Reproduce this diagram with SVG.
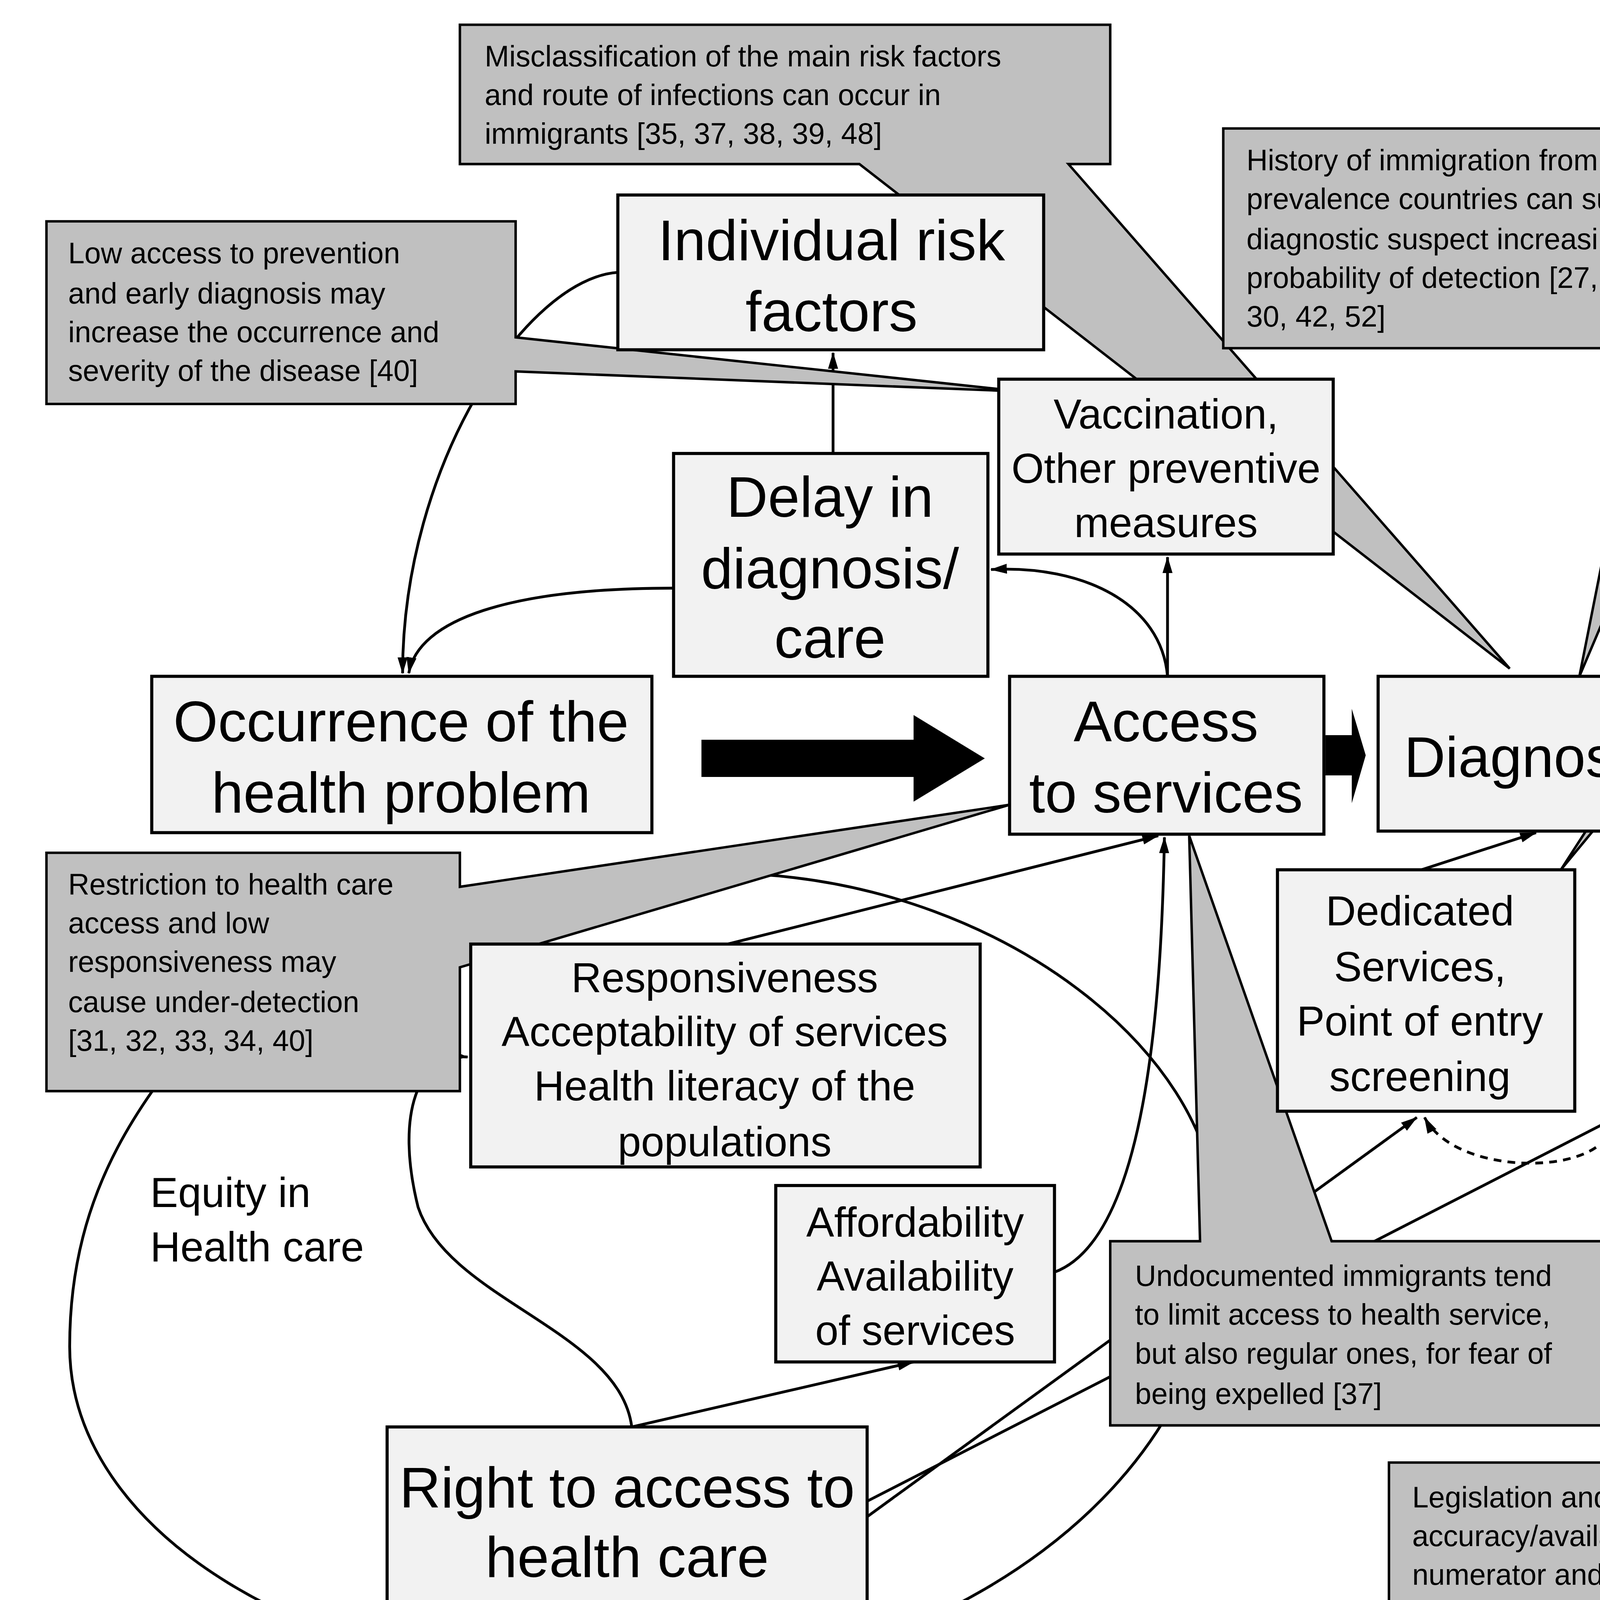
<svg xmlns="http://www.w3.org/2000/svg" width="6184" height="4477" viewBox="0 0 6184 4477">
<defs>
<style>
.bx{fill:#f2f2f2;stroke:#000;stroke-width:2}
.co{fill:#c0c0c0;stroke:#000;stroke-width:1.6}
.ln{fill:none;stroke:#000;stroke-width:1.8}
.t{font-family:"Liberation Sans",Arial,sans-serif;fill:#000}
.big{font-size:37px;text-anchor:middle}
.mid{font-size:27px;text-anchor:middle}
.sm{font-size:19px}
</style>
<marker id="ah" viewBox="0 0 10 10" refX="9.5" refY="5" markerWidth="6" markerHeight="6" orient="auto-start-reverse"><path d="M0,2 L10,5 L0,8 Z" fill="#000"/></marker>
</defs>
<rect width="6184" height="4477" fill="#fff"/>
<g transform="scale(3.964,3.962)">
<g id="connectors">
<path class="ln" d="M490,565 C650,575 780,680 785,780 C800,960 600,1090 400,1088 C200,1085 45,990 45,870 C45,760 100,700 150,640 C250,570 380,560 490,565 Z"/>
<path class="ln" d="M399,176 C340,180 260,300 260,435" marker-end="url(#ah)"/>
<path class="ln" d="M435,380 C330,380 270,400 264,435" marker-end="url(#ah)"/>
<path class="ln" d="M538,293 L538,228" marker-end="url(#ah)"/>
<path class="ln" d="M752,245 C750,200 720,170 676,175" marker-end="url(#ah)"/>
<path class="ln" d="M754,437 L754,360" marker-end="url(#ah)"/>
<path class="ln" d="M754,437 C750,390 700,365 640,368" marker-end="url(#ah)"/>
<path class="ln" d="M470,610 L748,540" marker-end="url(#ah)"/>
<path class="ln" d="M681,822 C740,800 750,650 752,541" marker-end="url(#ah)"/>
<path class="ln" d="M408,922 L590,880" marker-end="url(#ah)"/>
<path class="ln" d="M408,922 C400,860 290,840 270,780 C255,720 270,680 302,683" marker-end="url(#ah)"/>
<path class="ln" d="M560,980 L915,722" marker-end="url(#ah)"/>
<path class="ln" d="M560,970 L1077,705" marker-end="url(#ah)"/>
<path class="ln" d="M918,562 L992,538" marker-end="url(#ah)"/>
<path class="ln" stroke-dasharray="5,4" d="M920,722 C940,760 1030,760 1040,730 C1045,710 1060,705 1077,705" marker-start="url(#ah)" marker-end="url(#ah)"/>
<path d="M453,478 H590 V462 L636,490 L590,518 V502 H453 Z" fill="#000"/>
<path d="M856,475 H873 V458 L882,488 L873,519 V501 H856 Z" fill="#000"/>
<path d="M1095,475 H1122 V458 L1135,488 L1122,519 V501 H1095 Z" fill="#000"/>
<line class="ln" x1="1040" y1="598" x2="1472" y2="598"/>
</g>
<g id="callout-misclass">
<path class="co" d="M297,16 H717 V106 H690 L975,432 L555,106 H297 Z"/>
<text class="t sm" x="313" y="43">Misclassification of the main risk factors</text>
<text class="t sm" x="313" y="68">and route of infections can occur in</text>
<text class="t sm" x="313" y="93">immigrants [35, 37, 38, 39, 48]</text>
</g>
<g id="callout-lowaccess">
<path class="co" d="M30,143 H333 V218 L660,253 L333,240 V261 H30 Z"/>
<text class="t sm" x="44" y="170">Low access to prevention</text>
<text class="t sm" x="44" y="196">and early diagnosis may</text>
<text class="t sm" x="44" y="221">increase the occurrence and</text>
<text class="t sm" x="44" y="246">severity of the disease [40]</text>
</g>
<g id="callout-history">
<path class="co" d="M790,83 H1172 V225 H1110 L1020,437 L1062,225 H790 Z"/>
<text class="t sm" x="805" y="110">History of immigration from high</text>
<text class="t sm" x="805" y="135">prevalence countries can suggest</text>
<text class="t sm" x="805" y="161">diagnostic suspect increasing the</text>
<text class="t sm" x="805" y="186">probability of detection [27, 28, 29,</text>
<text class="t sm" x="805" y="211">30, 42, 52]</text>
</g>
<g id="callout-screening">
<path class="co" d="M1185,62 H1353 V203 H1305 L1008,562 L1240,203 H1185 Z"/>
<text class="t sm" x="1200" y="89">Screening for asymptomatic</text>
<text class="t sm" x="1200" y="114">diseases causes over-reporting</text>
<text class="t sm" x="1200" y="139">or less under-reporting than in</text>
<text class="t sm" x="1200" y="165">native populations [28, 46, 47,</text>
<text class="t sm" x="1200" y="190">48, 49, 51]</text>
</g>
<g id="callout-manycases">
<path class="co" d="M1293,228 H1550 V365 H1395 L1325,437 L1345,365 H1293 Z"/>
<text class="t sm" x="1307" y="254">In many cases</text>
<text class="t sm" x="1307" y="279">numerator includes</text>
<text class="t sm" x="1307" y="304">case that cannot be</text>
<text class="t sm" x="1307" y="329">included in denominator</text>
<text class="t sm" x="1307" y="355">[29, 44, 45]</text>
</g>
<g id="callout-restriction">
<path class="co" d="M30,551 H297 V573 L652,520 L297,625 V705 H30 Z"/>
<text class="t sm" x="44" y="578">Restriction to health care</text>
<text class="t sm" x="44" y="603">access and low</text>
<text class="t sm" x="44" y="628">responsiveness may</text>
<text class="t sm" x="44" y="654">cause under-detection</text>
<text class="t sm" x="44" y="679">[31, 32, 33, 34, 40]</text>
</g>
<g id="callout-undocumented">
<path class="co" d="M717,802 H775 L768,540 L860,802 H1064 V921 H717 Z"/>
<text class="t sm" x="733" y="831">Undocumented immigrants tend</text>
<text class="t sm" x="733" y="856">to limit access to health service,</text>
<text class="t sm" x="733" y="881">but also regular ones, for fear of</text>
<text class="t sm" x="733" y="907">being expelled [37]</text>
</g>
<g id="callout-legislation">
<path class="co" d="M897,945 H1350 L1285,770 L1440,945 H1550 V1120 H897 Z"/>
<text class="t sm" x="912" y="974">Legislation and right to access to health care influence both</text>
<text class="t sm" x="912" y="999">accuracy/availability of denominator and correspondence between</text>
<text class="t sm" x="912" y="1024">numerator and denominator [43, 45]</text>
<text class="t sm" x="912" y="1050">Official data including only regular migrants tend to under-estimate</text>
<text class="t sm" x="912" y="1075">the at risk population, thus over-estimating the occurrence of</text>
<text class="t sm" x="912" y="1100">disease in immigrants [29, 45, 47]</text>
</g>
<g id="individual"><rect class="bx" x="399" y="126" width="275" height="100"/>
<text class="t big" x="537" y="168">Individual risk</text><text class="t big" x="537" y="214">factors</text></g>
<g id="delay"><rect class="bx" x="435" y="293" width="203" height="144"/>
<text class="t big" x="536" y="334">Delay in</text><text class="t big" x="536" y="380">diagnosis/</text><text class="t big" x="536" y="425">care</text></g>
<g id="vaccination"><rect class="bx" x="645" y="245" width="216" height="113"/>
<text class="t mid" x="753" y="277">Vaccination,</text><text class="t mid" x="753" y="312">Other preventive</text><text class="t mid" x="753" y="347">measures</text></g>
<g id="occurrence"><rect class="bx" x="98" y="437" width="323" height="101"/>
<text class="t big" x="259" y="479">Occurrence of the</text><text class="t big" x="259" y="525">health problem</text></g>
<g id="access"><rect class="bx" x="652" y="437" width="203" height="102"/>
<text class="t big" x="753" y="479">Access</text><text class="t big" x="753" y="525">to services</text></g>
<g id="diagnosis"><rect class="bx" x="890" y="437" width="203" height="100"/>
<text class="t big" x="988" y="502">Diagnosis</text></g>
<g id="event"><rect class="bx" x="1149" y="437" width="203" height="101"/>
<text class="t big" x="1250" y="479">Event</text><text class="t big" x="1250" y="525">Reporting</text></g>
<g id="dedicated"><rect class="bx" x="825" y="562" width="192" height="156"/>
<text class="t mid" x="917" y="598">Dedicated</text><text class="t mid" x="917" y="634">Services,</text><text class="t mid" x="917" y="669">Point of entry</text><text class="t mid" x="917" y="705">screening</text></g>
<g id="migrants"><rect class="bx" x="1077" y="646" width="371" height="119"/>
<text class="t big" x="1257" y="698">Migrants</text><text class="t big" x="1257" y="744">(regular, irregular)</text></g>
<g id="responsiveness"><rect class="bx" x="304" y="610" width="329" height="144"/>
<text class="t mid" x="468" y="641">Responsiveness</text><text class="t mid" x="468" y="676">Acceptability of services</text><text class="t mid" x="468" y="711">Health literacy of the</text><text class="t mid" x="468" y="747">populations</text></g>
<g id="affordability"><rect class="bx" x="501" y="766" width="180" height="114"/>
<text class="t mid" x="591" y="799">Affordability</text><text class="t mid" x="591" y="834">Availability</text><text class="t mid" x="591" y="869">of services</text></g>
<g id="right"><rect class="bx" x="250" y="922" width="310" height="120"/>
<text class="t big" x="405" y="974">Right to access to</text><text class="t big" x="405" y="1019">health care</text></g>
<g id="labels">
<text class="t" font-size="27" x="97" y="780">Equity in</text>
<text class="t" font-size="27" x="97" y="815">Health care</text>
<text class="t" font-size="34" text-anchor="middle" transform="translate(1518,490) rotate(-90)">numerator</text>
<text class="t" font-size="34" text-anchor="middle" transform="translate(1518,720) rotate(-90)">denominator</text>
</g>
</g>
</svg>
